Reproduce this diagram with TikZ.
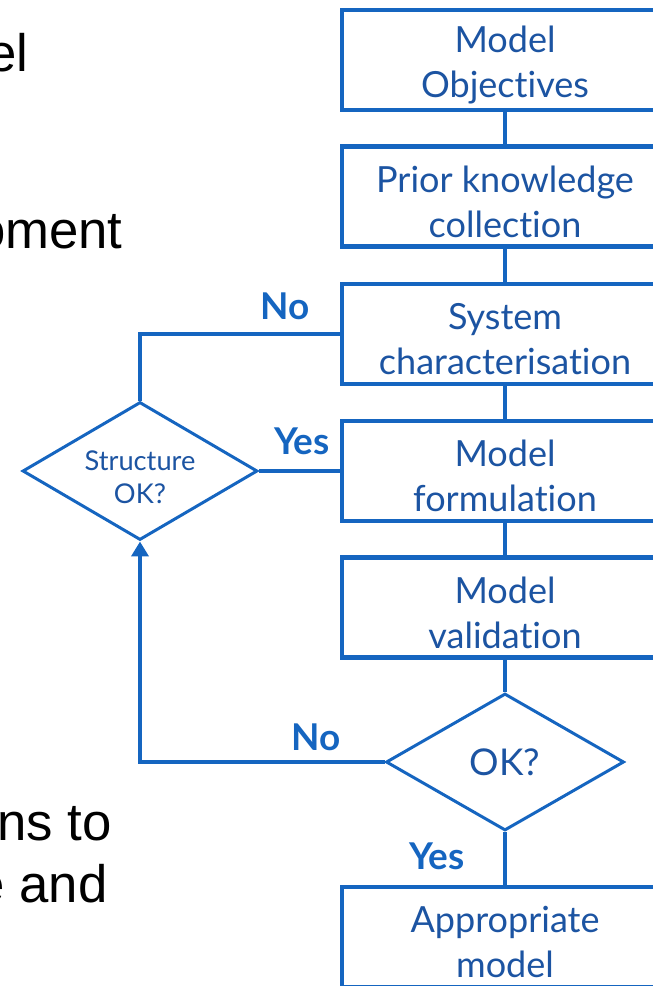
\documentclass[tikz,border=0pt]{standalone}
\usepackage{fontspec}
\setmainfont{Lato}[Ligatures=NoCommon]
\newfontfamily\slidefont{Liberation Sans}
\usetikzlibrary{positioning,arrows.meta,shapes.geometric}
\definecolor{flowblue}{RGB}{21,101,192}
\definecolor{textblue}{RGB}{28,84,162}

\begin{document}
\begin{tikzpicture}[
  stagebox/.style={draw=flowblue,line width=2.3pt,fill=white,minimum width=6.52cm,minimum height=2.0cm,align=center,text=textblue,font=\fontsize{20.5}{25.6}\selectfont},
  decision/.style={diamond,aspect=1.7,draw=flowblue,line width=1.7pt,fill=white,inner sep=0pt,align=center,text=textblue},
  link/.style={draw=flowblue,line width=2.3pt},
  answer/.style={text=flowblue,font=\fontsize{21}{24}\selectfont\bfseries},
  slidetext/.style={font=\slidefont\fontsize{30}{36}\selectfont,text=black,inner sep=0pt,anchor=base east}
]
\clip (0,0) rectangle (13.06,-19.72);
% cut-off slide text on the left
\node[slidetext] (t1) at (0.58,-1.44) {el};
\node[slidetext] (t2) at (2.46,-4.96) {oment};
\node[slidetext] (t3) at (2.24,-16.80) {ns to};
\node[slidetext] (t4) at (2.16,-18.04) {e and};
% main chain of stages
\foreach \name/\y/\txt in {
  obj/-1.20/{Model\\Objectives},
  prior/-3.93/{Prior knowledge\\collection},
  sys/-6.68/{System\\characterisation},
  form/-9.42/{Model\\formulation},
  valid/-12.15/{Model\\validation},
  appr/-18.74/{Appropriate\\model}}
{
  \node[stagebox] (\name) at (10.10,\y) {\rule{0pt}{21pt}\txt};
}
% decisions
\node[decision,minimum width=4.76cm,minimum height=2.74cm,font=\fontsize{21}{24}\selectfont] (ok) at (10.10,-15.24) {OK?};
\node[decision,minimum width=4.70cm,minimum height=2.76cm,font=\fontsize{15.5}{19}\selectfont] (struct) at (2.80,-9.42) {\rule{0pt}{18pt}Structure\\OK?};
% connectors
\draw[link] (obj) -- (prior);
\draw[link] (prior) -- (sys);
\draw[link] (sys) -- (form);
\draw[link] (form) -- (valid);
\draw[link] (valid) -- (ok);
\draw[link] (ok) -- (appr);
\draw[link] (struct.north) |- (sys.west);
\draw[link] (struct.east) -- (struct.east -| form.west);
\draw[link,-{Triangle[width=0.34cm,length=0.3cm]}] (ok.west) -| (struct.south);
% labels
\node[answer] (no1) at (5.70,-6.12) {No};
\node[answer] (yes1) at (6.04,-8.82) {Yes};
\node[answer] (no2) at (6.32,-14.74) {No};
\node[answer] (yes2) at (8.74,-17.12) {Yes};
\end{tikzpicture}
\end{document}
